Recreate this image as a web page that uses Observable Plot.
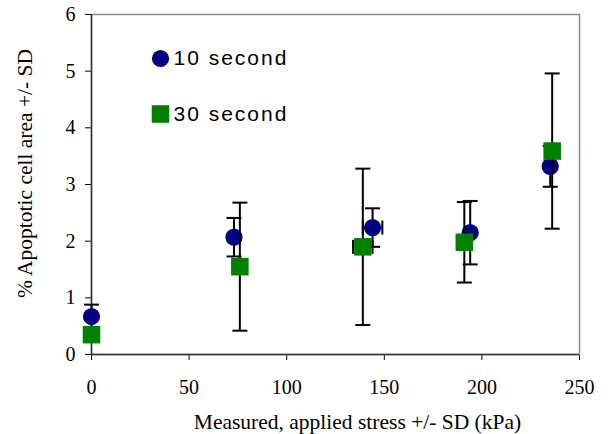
<!DOCTYPE html>
<html><head><meta charset="utf-8">
<script src="https://cdn.jsdelivr.net/npm/d3@7"></script>
<script src="https://cdn.jsdelivr.net/npm/@observablehq/plot@0.6"></script>
<style>
html,body{margin:0;padding:0;background:#fff;}
g[aria-description="legend"] text{letter-spacing:2px;}
</style></head><body><div id="chart"></div>
<script>
// Data
const stress10 = [0, 73, 144, 194, 235];
const stressSD10 = [0, 0, 5, 0, 0];
const apoptosis10 = [0.67, 2.07, 2.24, 2.15, 3.32];
const apoptosisSD10 = [0.21, 0.34, 0.34, 0.56, 0.36];
const stress30 = [0, 76, 139, 191, 236];
const stressSD30 = [0, 0, 5, 0, 0];
const apoptosis30 = [0.35, 1.55, 1.90, 1.98, 3.59];
const apoptosisSD30 = [0.1, 1.13, 1.38, 0.71, 1.37];
const seriesNames = ["10 second", "30 second"];
const xTicks = [0, 50, 100, 150, 200, 250];
const yTicks = [0, 1, 2, 3, 4, 5, 6];
const xLabel = "Measured, applied stress +/- SD (kPa)";
const yLabel = "% Apoptotic cell area +/- SD";

const rows = (xs, xsd, ys, ysd, name) => xs.map((x, i) => ({x, xsd: xsd[i], y: ys[i], ysd: ysd[i], name}));
const s10 = rows(stress10, stressSD10, apoptosis10, apoptosisSD10, seriesNames[0]);
const s30 = rows(stress30, stressSD30, apoptosis30, apoptosisSD30, seriesNames[1]);

const hcap = {draw(ctx) { ctx.moveTo(-7.5, 0); ctx.lineTo(7.5, 0); }};
const vcap = {draw(ctx) { ctx.moveTo(0, -7); ctx.lineTo(0, 7); }};

const NAVY = "#000080", GREEN = "#008000";
const serif = "Liberation Serif, Times New Roman, serif";
const sans = "Liberation Sans, Arial, sans-serif";

function errorMarks(data) {
  const hx = data.filter(d => d.xsd > 0);
  return [
    Plot.ruleX(data, {x: "x", y1: d => d.y - d.ysd, y2: d => d.y + d.ysd, stroke: "#000", strokeWidth: 2}),
    Plot.dot(data, {x: "x", y: d => d.y + d.ysd, symbol: hcap, stroke: "#000", strokeWidth: 2, fill: "none"}),
    Plot.dot(data, {x: "x", y: d => d.y - d.ysd, symbol: hcap, stroke: "#000", strokeWidth: 2, fill: "none"}),
    Plot.ruleY(hx, {y: "y", x1: d => d.x - d.xsd, x2: d => d.x + d.xsd, stroke: "#000", strokeWidth: 2}),
    Plot.dot(hx, {x: d => d.x - d.xsd, y: "y", symbol: vcap, stroke: "#000", strokeWidth: 2, fill: "none"}),
    Plot.dot(hx, {x: d => d.x + d.xsd, y: "y", symbol: vcap, stroke: "#000", strokeWidth: 2, fill: "none"})
  ];
}

const chart = Plot.plot({
  width: 610,
  height: 434,
  marginLeft: 91,
  marginRight: 31,
  marginTop: 14,
  marginBottom: 80,
  style: {fontFamily: serif, fontSize: "20px", color: "#000", background: "#fff"},
  x: {domain: [0, 250], ticks: xTicks, tickFormat: "d", tickSize: 6, tickPadding: 19, label: null},
  y: {domain: [0, 6], ticks: yTicks, tickFormat: "d", tickSize: 6, tickPadding: 10, label: null},
  marks: [
    Plot.frame({stroke: "#8c8c8c", strokeWidth: 1.5}),
    Plot.ruleX([0], {stroke: "#333", strokeWidth: 1.5}),
    Plot.ruleY([0], {stroke: "#333", strokeWidth: 1.5}),
    ...errorMarks(s10),
    Plot.dot(s10, {x: "x", y: "y", r: 8.6, fill: NAVY, symbol: "circle"}),
    ...errorMarks(s30),
    Plot.dot(s30, {x: "x", y: "y", r: 9.9, fill: GREEN, symbol: "square"}),
    // legend
    Plot.dot([seriesNames[0]], {frameAnchor: "top-left", dx: 69, dy: 44, r: 8.6, fill: NAVY, symbol: "circle"}),
    Plot.dot([seriesNames[1]], {frameAnchor: "top-left", dx: 69, dy: 99.5, r: 9.9, fill: GREEN, symbol: "square"}),
    Plot.text([seriesNames[0]], {text: d => d, frameAnchor: "top-left", dx: 82, dy: 44, textAnchor: "start", lineAnchor: "middle", fontFamily: sans, fontSize: 21, fill: "#000", ariaDescription: "legend"}),
    Plot.text([seriesNames[1]], {text: d => d, frameAnchor: "top-left", dx: 82, dy: 99.5, textAnchor: "start", lineAnchor: "middle", fontFamily: sans, fontSize: 21, fill: "#000", ariaDescription: "legend"}),
    // axis titles
    Plot.text([xLabel], {text: d => d, frameAnchor: "bottom", textAnchor: "middle", dx: 22, dy: 68, lineAnchor: "middle", fontFamily: serif, fontSize: 21.5, fill: "#000"}),
    Plot.text([yLabel], {text: d => d, frameAnchor: "left", textAnchor: "middle", rotate: -90, dx: -66, dy: -11, lineAnchor: "middle", fontFamily: serif, fontSize: 21.5, fill: "#000"})
  ]
});
document.getElementById("chart").appendChild(chart);
</script></body></html>
